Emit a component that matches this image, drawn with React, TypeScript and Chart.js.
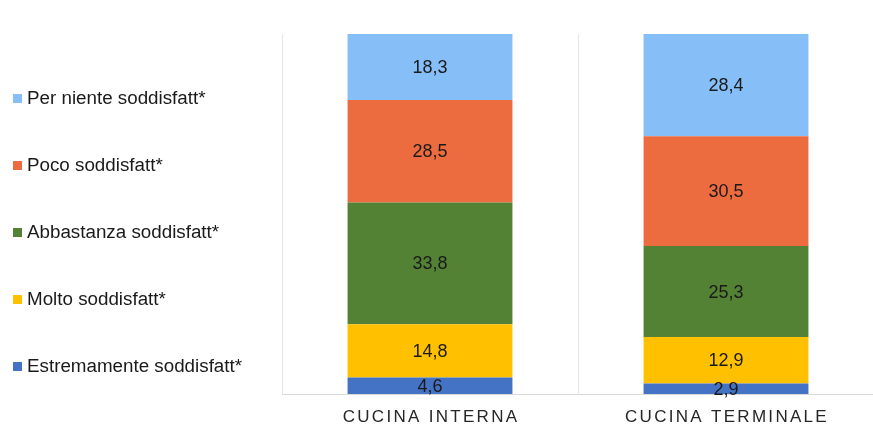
import React, { useEffect, useRef } from "react";
import { Chart, registerables } from "chart.js";

Chart.register(...registerables);

const categories = ["CUCINA INTERNA", "CUCINA TERMINALE"];
const seriesNames = [
  "Estremamente soddisfatt*",
  "Molto soddisfatt*",
  "Abbastanza soddisfatt*",
  "Poco soddisfatt*",
  "Per niente soddisfatt*",
];
const estremamente = [4.6, 2.9];
const molto = [14.8, 12.9];
const abbastanza = [33.8, 25.3];
const poco = [28.5, 30.5];
const perNiente = [18.3, 28.4];
const seriesColors = ["#4472C4", "#FFC000", "#548235", "#ED6C3F", "#86BEF8"];

const FONT = "'Liberation Sans', Arial, sans-serif";

const customDraw = {
  id: "customDraw",
  afterDatasetsDraw(chart: any) {
    const ctx = chart.ctx;
    ctx.save();
    ctx.font = `18px ${FONT}`;
    ctx.fillStyle = "#1a1a1a";
    ctx.textAlign = "center";
    ctx.textBaseline = "middle";
    chart.data.datasets.forEach((ds: any, di: number) => {
      const meta = chart.getDatasetMeta(di);
      meta.data.forEach((bar: any, i: number) => {
        const v = ds.data[i];
        const cy = (bar.y + bar.base) / 2;
        ctx.fillText(v.toFixed(1).replace(".", ","), bar.x, cy + 1);
      });
    });
    ctx.restore();
  },
  afterDraw(chart: any) {
    const ctx = chart.ctx;
    const xScale = chart.scales.x;
    ctx.save();
    // x labels
    ctx.font = `17px ${FONT}`;
    ctx.fillStyle = "#262626";
    ctx.textAlign = "center";
    ctx.textBaseline = "middle";
    try {
      (ctx as any).letterSpacing = "2.3px";
    } catch (e) {}
    chart.data.labels.forEach((lab: string, i: number) => {
      ctx.fillText(lab, xScale.getPixelForValue(i) + 1, 417);
    });
    try {
      (ctx as any).letterSpacing = "0px";
    } catch (e) {}
    // legend (reverse order, top = last series)
    ctx.font = `18.8px ${FONT}`;
    ctx.textAlign = "left";
    const n = chart.data.datasets.length;
    for (let k = 0; k < n; k++) {
      const ds = chart.data.datasets[n - 1 - k];
      const cy = 98 + k * 67;
      ctx.fillStyle = ds.backgroundColor;
      ctx.fillRect(13, cy - 4, 9, 9);
      ctx.fillStyle = "#1a1a1a";
      ctx.fillText(ds.label, 27, cy + 1);
    }
    ctx.restore();
  },
};

export default function App() {
  const ref = useRef<HTMLCanvasElement | null>(null);
  useEffect(() => {
    if (!ref.current) return;
    const values = [estremamente, molto, abbastanza, poco, perNiente];
    const chart = new Chart(ref.current, {
      type: "bar",
      data: {
        labels: categories,
        datasets: seriesNames.map((name, i) => ({
          label: name,
          data: values[i],
          backgroundColor: seriesColors[i],
          borderWidth: 0,
          categoryPercentage: 1,
          barPercentage: 0.557,
        })),
      },
      options: {
        responsive: false,
        animation: false,
        layout: { padding: { left: 282, right: 2, top: 34, bottom: 38 } },
        plugins: { legend: { display: false }, tooltip: { enabled: false } },
        scales: {
          x: {
            stacked: true,
            ticks: { display: false },
            grid: { display: true, color: "#e6e6e6", offset: true, drawTicks: false },
            border: { display: true, color: "#d9d9d9" },
          },
          y: {
            stacked: true,
            display: false,
            min: 0,
            max: 100,
          },
        },
      },
      plugins: [customDraw],
    });
    return () => chart.destroy();
  }, []);
  return (
    <div
      style={{
        position: "fixed",
        left: 0,
        top: 0,
        width: 873,
        height: 432,
        overflow: "hidden",
        background: "#fff",
      }}
    >
      <canvas ref={ref} width={876} height={432} style={{ width: 876, height: 432, display: "block" }} />
    </div>
  );
}
